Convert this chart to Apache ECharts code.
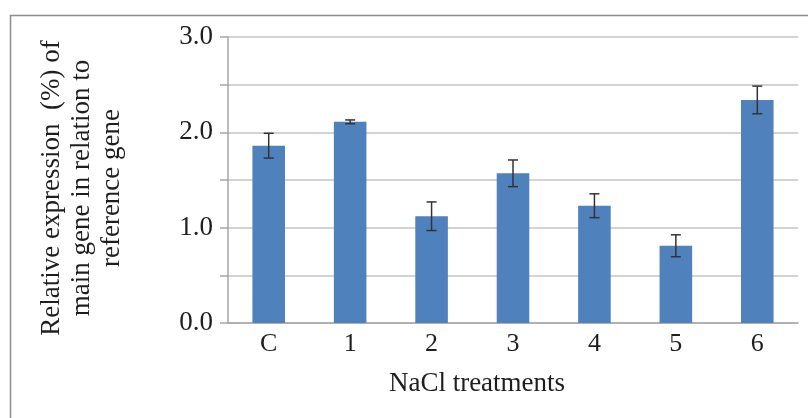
<!DOCTYPE html>
<html>
<head>
<meta charset="utf-8">
<script src="https://cdn.jsdelivr.net/npm/echarts@6/dist/echarts.min.js"></script>
<style>html,body{margin:0;padding:0;background:#fff;}#c{width:808px;height:418px;}</style>
</head>
<body>
<div id="c"></div>
<script>
var categories = ['C', '1', '2', '3', '4', '5', '6'];
var values = [1.86, 2.11, 1.12, 1.57, 1.23, 0.81, 2.34];
var errors = [0.13, 0.02, 0.15, 0.14, 0.125, 0.115, 0.145];
var yTicks = [0, 0.5, 1, 1.5, 2, 2.5, 3];

var chart = echarts.init(document.getElementById('c'));
var serif = '"Liberation Serif", "Times New Roman", serif';
var errData = values.map(function (v, i) { return [i, v - errors[i], v + errors[i]]; });

chart.setOption({
  animation: false,
  backgroundColor: '#fff',
  grid: { left: 228, right: 10, top: 37, bottom: 95 },
  graphic: [
    { type: 'rect', shape: { x: 10.5, y: 15.5, width: 900, height: 500 },
      style: { fill: 'none', stroke: '#8c8c8c', lineWidth: 1.5 }, z: -1 },
    { type: 'text', x: 82, y: 188, rotation: Math.PI / 2,
      style: { text: 'Relative expression  (%) of\nmain gene in relation to\nreference gene',
        font: '27px ' + serif, fill: '#1e1e1e', align: 'center', verticalAlign: 'middle', lineHeight: 30 } },
    { type: 'text', x: 477, y: 384,
      style: { text: 'NaCl treatments', font: '27px ' + serif, fill: '#1e1e1e', align: 'center', verticalAlign: 'middle' } }
  ],
  xAxis: {
    type: 'category',
    data: categories,
    axisLine: { lineStyle: { color: '#a6a6a6', width: 1.5 } },
    axisTick: { show: false },
    axisLabel: { fontFamily: serif, fontSize: 26, color: '#1e1e1e', margin: 8 }
  },
  yAxis: {
    type: 'value',
    min: 0, max: 3, interval: 0.5,
    axisLine: { show: true, lineStyle: { color: '#a6a6a6', width: 1.5 } },
    axisTick: { show: true, length: 8, lineStyle: { color: '#a6a6a6', width: 1.5 } },
    splitLine: { lineStyle: { color: '#c4c4c4', width: 1.5 } },
    axisLabel: {
      fontFamily: serif, fontSize: 27, color: '#1e1e1e', margin: 15,
      formatter: function (v) { return (yTicks.indexOf(v) >= 0 && v % 1 === 0) ? v.toFixed(1) : ''; }
    }
  },
  series: [
    {
      type: 'bar',
      data: values,
      barWidth: '40%',
      itemStyle: { color: '#4f81bd' }
    },
    {
      type: 'custom',
      data: errData,
      z: 10,
      renderItem: function (params, api) {
        var x = api.value(0);
        var lo = api.coord([x, api.value(1)]);
        var hi = api.coord([x, api.value(2)]);
        var w = 5;
        var st = { stroke: '#333', lineWidth: 1.5 };
        return {
          type: 'group',
          children: [
            { type: 'line', shape: { x1: lo[0], y1: lo[1], x2: hi[0], y2: hi[1] }, style: st },
            { type: 'line', shape: { x1: lo[0] - w, y1: lo[1], x2: lo[0] + w, y2: lo[1] }, style: st },
            { type: 'line', shape: { x1: hi[0] - w, y1: hi[1], x2: hi[0] + w, y2: hi[1] }, style: st }
          ]
        };
      }
    }
  ]
});
</script>
</body>
</html>
